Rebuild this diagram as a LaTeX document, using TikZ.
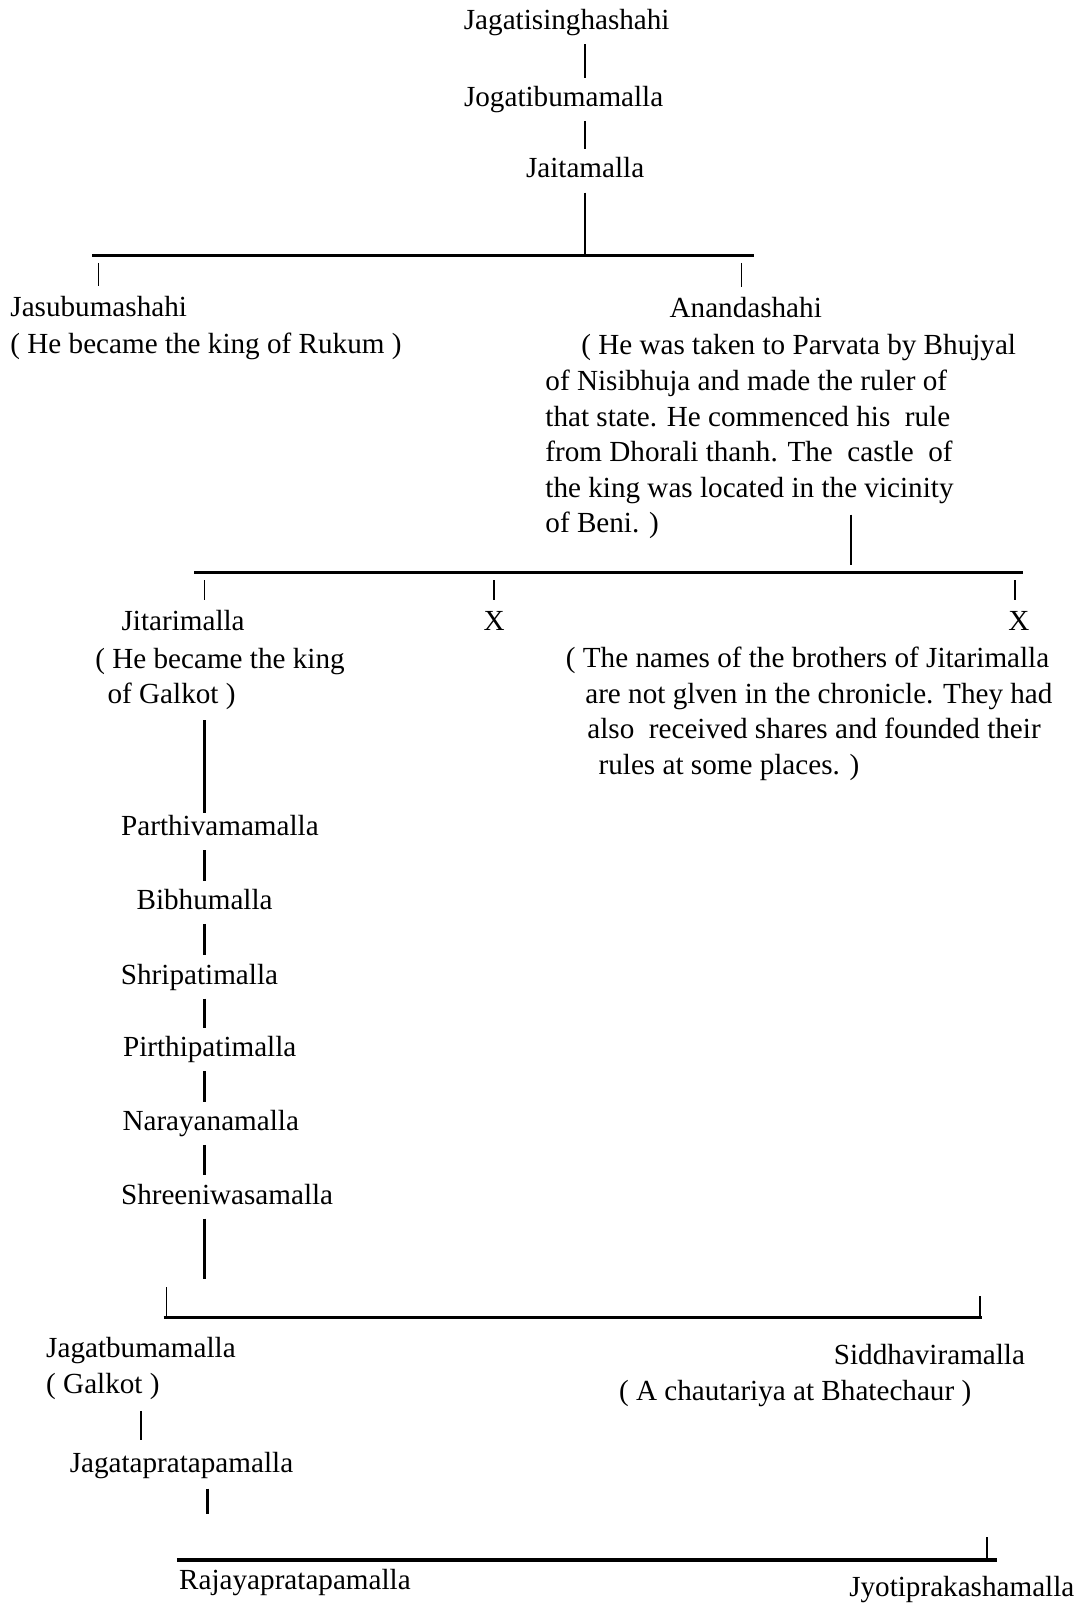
\documentclass[tikz,border=0pt]{standalone}
\usepackage{fontspec}
\setmainfont{Liberation Serif}
\usepackage{tikz}

\tikzset{
  king/.style={inner sep=0pt, text height=20pt, text depth=7pt, font=\fontsize{28.5}{34.8}\selectfont},
  remark/.style={inner sep=0pt, align=left, font=\fontsize{28.5}{34.8}\selectfont},
  stem/.style={line width=2.4pt, shorten <=7pt, shorten >=8pt},
  tick/.style={line width=1.4pt, shorten <=7pt, shorten >=9pt},
  bar/.style={line width=3.2pt},
}

\begin{document}
\begin{tikzpicture}[x=1pt,y=-1pt]
  \useasboundingbox (0,0) rectangle (1056,1568);

  % Define nodes (notes sit on the baseline of their last line)
  \node[king, anchor=base] (jagati) at (554,29)  {Jagatisinghashahi};
  \node[king, anchor=base] (jogati) at (551,104) {Jogatibumamalla};
  \node[king, anchor=base] (jaita)  at (572,174) {Jaitamalla};

  \node[king, anchor=base west] (jasubu) at (10,309) {Jasubumashahi};
  \node[remark, anchor=base west] (jasubunote) at (10,346) {( He became the king of Rukum )};
  \node[king, anchor=base] (ananda) at (729,310) {Anandashahi};
  \node[remark, anchor=base west] (anandanote) at (533,521)
    {\hspace*{35pt}( He was taken to Parvata by Bhujyal\\
     of Nisibhuja and made the ruler of\\
     that state. He commenced his\ \ rule\\
     from Dhorali thanh. The\ \ castle\ \ of\\
     the king was located in the vicinity\\
     of Beni. )};

  \node[king, anchor=base] (jitari) at (179,616) {Jitarimalla};
  \node[king, anchor=base] (xa) at (483,616) {X};
  \node[king, anchor=base] (xb) at (996,616) {X};
  \node[remark, anchor=base west] (jitarinote) at (93,688)
    {( He became the king\\
     \hspace*{12pt}of Galkot )};
  \node[remark, anchor=base west] (brothers) at (553,757)
    {( The names of the brothers of Jitarimalla\\
     \hspace*{19pt}are not glven in the chronicle. They had\\
     \hspace*{21pt}also\ \ received shares and founded their\\
     \hspace*{32pt}rules at some places. )};

  \node[king, anchor=base] (parthiva) at (215,817)  {Parthivamamalla};
  \node[king, anchor=base] (bibhu)    at (200,889)  {Bibhumalla};
  \node[king, anchor=base] (shripati) at (195,962)  {Shripatimalla};
  \node[king, anchor=base] (pirthi)   at (205,1033) {Pirthipatimalla};
  \node[king, anchor=base] (naraya)   at (206,1105) {Narayanamalla};
  \node[king, anchor=base] (shreeni)  at (222,1177) {Shreeniwasamalla};

  \node[king, anchor=base west] (jagatbu) at (45,1327) {Jagatbumamalla};
  \node[remark, anchor=base west] (jagatbunote) at (45,1362) {( Galkot )};
  \node[king, anchor=base west] (siddha) at (815,1334) {Siddhaviramalla};
  \node[remark, anchor=base west] (siddhanote) at (605,1369) {( A chautariya at Bhatechaur )};
  \node[king, anchor=base west] (jagatapra) at (68,1439) {Jagatapratapamalla};

  \node[king, anchor=base west] (rajaya) at (175,1554) {Rajayapratapamalla};
  \node[king, anchor=base west] (jyoti)  at (830,1561) {Jyotiprakashamalla};

  % Bars
  \coordinate (b1w) at (90,250);   \coordinate (b1e) at (737,250);
  \coordinate (b2w) at (190,560);  \coordinate (b2e) at (1000,560);
  \coordinate (b3w) at (160,1288); \coordinate (b3e) at (960,1288);
  \coordinate (b4w) at (173,1525); \coordinate (b4e) at (975,1525);
  \coordinate (b2top) at (832,503);
  \coordinate (s3end) at (200,1250);
  \coordinate (s4) at (138,1380);
  \coordinate (s5end) at (203,1480);

  \draw[bar] (b1w) -- (b1e);
  \draw[bar] (b2w) -- (b2e);
  \draw[bar] (b3w) -- (b3e);
  \draw[bar] (b4w) -- (b4e);
  \draw[tick, shorten <=0pt, shorten >=0pt] ([xshift=3pt]b3w) -- ++(0,-30);
  \draw[tick, shorten <=0pt, shorten >=0pt] ([xshift=-2pt]b3e) -- ++(0,-21);
  \draw[tick, shorten <=0pt, shorten >=0pt] ([xshift=-10pt]b4e) -- ++(0,-23);

  % Links
  \draw[stem] (jagati.south -| jaita) -- (jogati.north -| jaita);
  \draw[stem] (jogati.south -| jaita) -- (jaita.north);
  \draw[stem, shorten >=0pt] (jaita.south) -- (jaita |- b1w);
  \draw[tick] (b1w -| jasubu) -- (jasubu.north);
  \draw[tick] (b1w -| 725,0) -- (ananda.north -| 725,0);

  \draw[stem, shorten <=0pt] (b2top) -- (b2top |- b2w);
  \draw[tick] (b2w -| bibhu) -- (jitari.north -| bibhu);
  \draw[tick] (b2w -| xa) -- (xa.north);
  \draw[tick] (b2w -| 992,0) -- (xb.north -| 992,0);

  \draw[stem, shorten <=10pt, shorten >=2pt] (jitarinote.south -| bibhu) -- (parthiva.north -| bibhu);
  \foreach \a/\b in {parthiva/bibhu, bibhu/shripati, shripati/pirthi, pirthi/naraya, naraya/shreeni}
    \draw[stem] (\a.south -| bibhu) -- (\b.north -| bibhu);
  \draw[stem, shorten >=0pt] (shreeni.south -| s3end) -- (s3end);

  \draw[stem, shorten <=11pt, shorten >=11pt] (jagatbunote.south -| s4) -- (jagatapra.north -| s4);
  \draw[stem, shorten <=9pt, shorten >=0pt] (jagatapra.south -| s5end) -- (s5end);

\end{tikzpicture}
\end{document}
